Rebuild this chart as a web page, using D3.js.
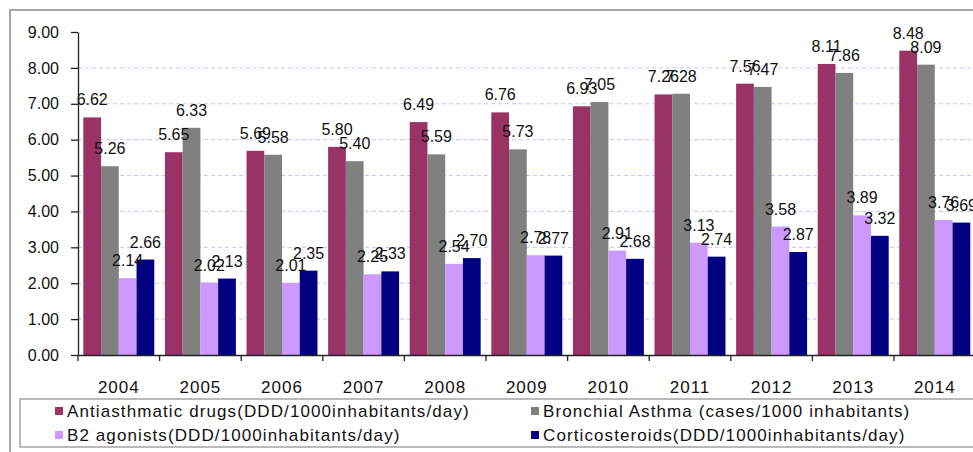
<!DOCTYPE html>
<html>
<head>
<meta charset="utf-8">
<script src="https://cdn.jsdelivr.net/npm/d3@7"></script>
<style>
  html, body { margin: 0; padding: 0; background: #fff; }
  svg { display: block; font-family: "Liberation Sans", Arial, sans-serif; }
</style>
</head>
<body>
<svg id="chart" width="973" height="452"></svg>
<script>
// Yearly figures, 2004–2014
const years = ["2004", "2005", "2006", "2007", "2008", "2009", "2010", "2011", "2012", "2013", "2014"];
const antiasthmaticDrugs = [6.62, 5.65, 5.69, 5.80, 6.49, 6.76, 6.93, 7.26, 7.56, 8.11, 8.48];
const bronchialAsthma   = [5.26, 6.33, 5.58, 5.40, 5.59, 5.73, 7.05, 7.28, 7.47, 7.86, 8.09];
const b2Agonists        = [2.14, 2.02, 2.01, 2.25, 2.54, 2.78, 2.91, 3.13, 3.58, 3.89, 3.76];
const corticosteroids   = [2.66, 2.13, 2.35, 2.33, 2.70, 2.77, 2.68, 2.74, 2.87, 3.32, 3.69];

const seriesNames = [
  "Antiasthmatic drugs(DDD/1000inhabitants/day)",
  "Bronchial Asthma (cases/1000 inhabitants)",
  "B2 agonists(DDD/1000inhabitants/day)",
  "Corticosteroids(DDD/1000inhabitants/day)"
];
const seriesValues = [antiasthmaticDrugs, bronchialAsthma, b2Agonists, corticosteroids];
const seriesColors = ["#993366", "#808080", "#CC99FF", "#000080"];
const yTicks = [0, 1, 2, 3, 4, 5, 6, 7, 8, 9];

const svg = d3.select("#chart");
const W = 973, H = 452;

svg.append("rect").attr("width", W).attr("height", H).attr("fill", "#fff");

// Outer chart frame (runs past the right and bottom edges)
svg.append("rect")
  .attr("x", 10).attr("y", 10)
  .attr("width", 1000).attr("height", 500)
  .attr("fill", "none").attr("stroke", "#a6a6a6").attr("stroke-width", 2);

const plot = { left: 78, top: 32, bottom: 355, right: 78 + 11 * 81.6 };

const x0 = d3.scaleBand().domain(years).range([plot.left, plot.right]).padding(0);
const x1 = d3.scaleBand().domain(d3.range(seriesNames.length))
  .range([0, x0.bandwidth()]).paddingInner(0).paddingOuter(0.3);
const y = d3.scaleLinear().domain([0, 9]).range([plot.bottom, plot.top]);

// Dashed horizontal gridlines
svg.append("g")
  .selectAll("line")
  .data(yTicks.filter(t => t > 0 && t < 9))
  .join("line")
  .attr("x1", plot.left).attr("x2", plot.right)
  .attr("y1", d => y(d)).attr("y2", d => y(d))
  .attr("stroke", "#c4c4ff").attr("stroke-width", 1)
  .attr("stroke-dasharray", "4,3");

// Bars
const groups = svg.append("g")
  .selectAll("g")
  .data(years)
  .join("g")
  .attr("transform", d => `translate(${x0(d)},0)`);

groups.selectAll("rect")
  .data((d, i) => seriesValues.map((vals, s) => ({ s, v: vals[i] })))
  .join("rect")
  .attr("x", d => x1(d.s))
  .attr("width", x1.bandwidth())
  .attr("y", d => y(d.v))
  .attr("height", d => y(0) - y(d.v))
  .attr("fill", d => seriesColors[d.s]);

// Y axis
const yAxis = svg.append("g")
  .attr("transform", `translate(${plot.left},0)`)
  .call(d3.axisLeft(y).tickValues(yTicks).tickFormat(d3.format(".2f"))
    .tickSizeInner(7).tickSizeOuter(0).tickPadding(12));
yAxis.select(".domain").attr("stroke", "#222").attr("stroke-width", 1.3);
yAxis.selectAll(".tick line").attr("stroke", "#222").attr("stroke-width", 1.3);
yAxis.selectAll(".tick text")
  .attr("font-size", 16).attr("fill", "#111")
  .attr("font-family", "'Liberation Sans', Arial, sans-serif");

// X axis with labels centred in each band
const xAxis = svg.append("g")
  .attr("transform", `translate(0,${plot.bottom})`)
  .call(d3.axisBottom(x0).tickSize(0).tickPadding(26));
xAxis.select(".domain").attr("stroke", "#222").attr("stroke-width", 1.3);
xAxis.selectAll(".tick text")
  .attr("font-size", 17).attr("fill", "#111")
  .attr("letter-spacing", "1px")
  .attr("font-family", "'Liberation Sans', Arial, sans-serif");

// Tick marks on the category boundaries
const boundaries = years.map(d => x0(d)).concat([plot.right]);
svg.append("g")
  .selectAll("line")
  .data(boundaries)
  .join("line")
  .attr("x1", d => d).attr("x2", d => d)
  .attr("y1", plot.bottom).attr("y2", plot.bottom + 6)
  .attr("stroke", "#222").attr("stroke-width", 1.3);

// Value labels above every bar
groups.selectAll("text.val")
  .data((d, i) => seriesValues.map((vals, s) => ({ s, v: vals[i] })))
  .join("text")
  .attr("class", "val")
  .attr("x", d => x1(d.s) + x1.bandwidth() / 2)
  .attr("y", d => y(d.v) - 12)
  .attr("text-anchor", "middle")
  .attr("font-size", 16)
  .attr("fill", "#111")
  .text(d => d.v.toFixed(2));

// Legend
const legend = svg.append("g");
legend.append("rect")
  .attr("x", 20).attr("y", 399)
  .attr("width", 1000).attr("height", 48)
  .attr("fill", "#fff").attr("stroke", "#8c8c8c").attr("stroke-width", 1.2);

const legendPos = [
  { x: 55, y: 407 },
  { x: 531, y: 407 },
  { x: 55, y: 431 },
  { x: 531, y: 431 }
];
const items = legend.selectAll("g.item")
  .data(seriesNames.map((name, s) => ({ name, s })))
  .join("g")
  .attr("class", "item")
  .attr("transform", d => `translate(${legendPos[d.s].x},${legendPos[d.s].y})`);
items.append("rect")
  .attr("width", 8).attr("height", 8)
  .attr("fill", d => seriesColors[d.s]);
items.append("text")
  .attr("x", 12).attr("y", 9.5)
  .attr("font-size", 17)
  .attr("letter-spacing", "1.1px")
  .attr("fill", "#111")
  .text(d => d.name);
</script>
</body>
</html>
